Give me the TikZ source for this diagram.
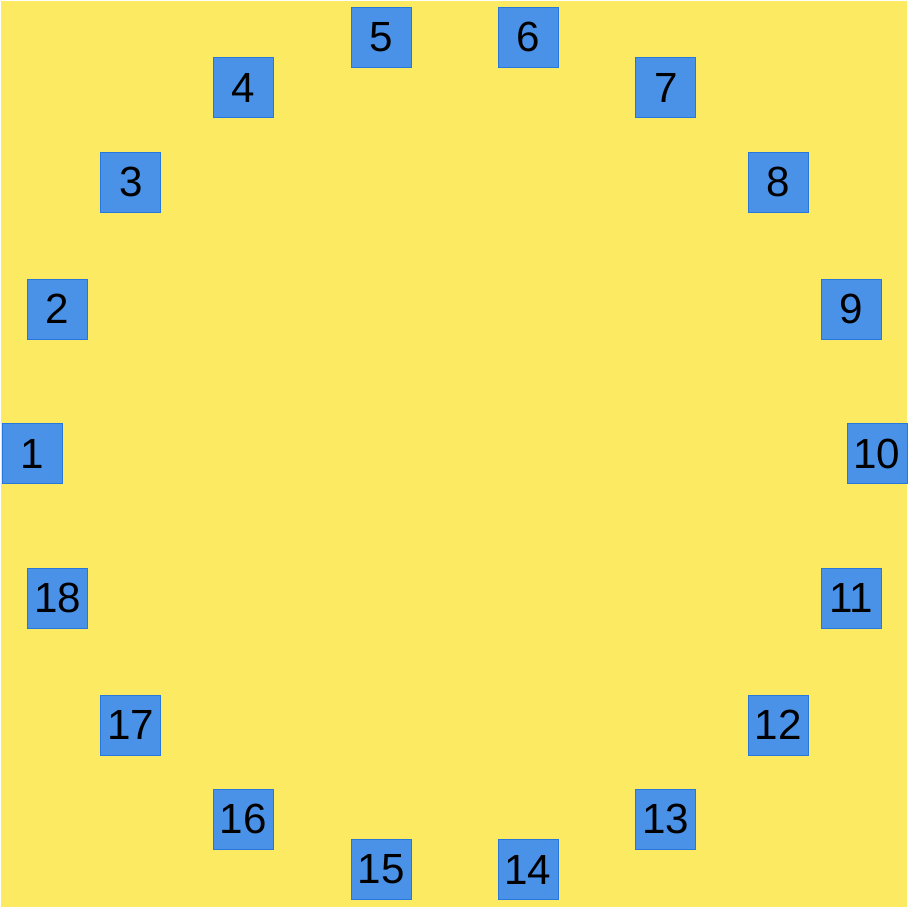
\documentclass[tikz,border=0pt]{standalone}
\usepackage{fontspec}
\setmainfont{Liberation Sans}
\usetikzlibrary{positioning, calc}
\definecolor{sunyellow}{RGB}{252, 235, 98}
\definecolor{tileblue}{RGB}{74, 146, 232}
\definecolor{tileedge}{RGB}{40, 120, 220}

\begin{document}
\begin{tikzpicture}[
            tile/.style={draw=tileedge, line width=0.4pt, fill=tileblue, minimum size=1.2cm, inner sep=0pt, font=\fontsize{24}{24}\selectfont, text=black}
        ]
            \useasboundingbox (0,0) rectangle (18.2,18.2);
            \fill[sunyellow] (0.03,0.06) rectangle (18.14,18.17);
            \coordinate (centre) at (9.09,9.13);

            % eighteen tiles round the circle, 1 on the left, counting clockwise
            \foreach \k in {1,...,18}{
                \node[tile] (n\k) at ($(centre)+({180-(\k-1)*20}:8.45)$) {\k};
            }
        \end{tikzpicture}
\end{document}
